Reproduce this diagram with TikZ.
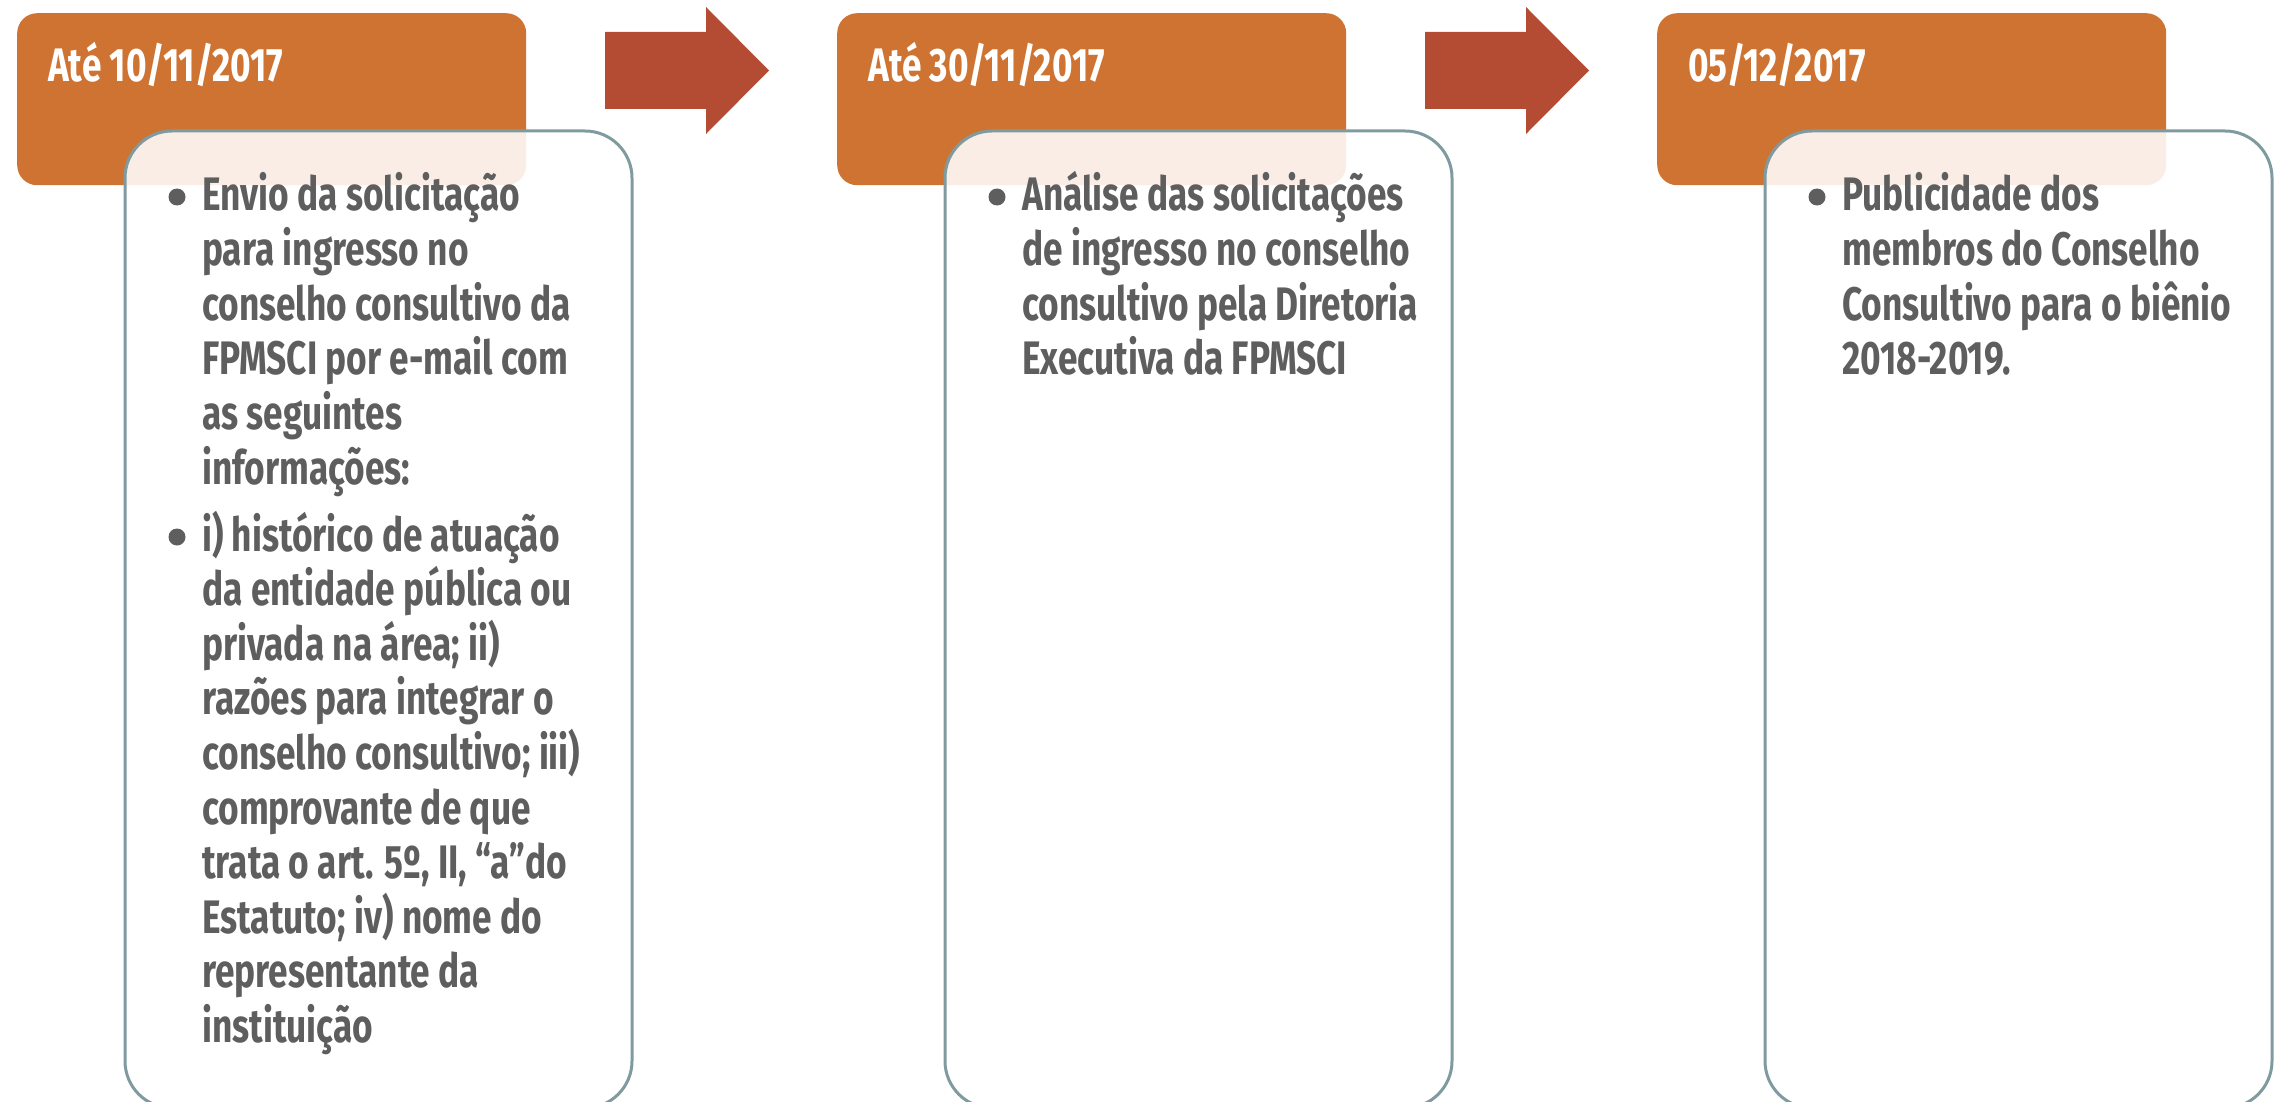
\documentclass[tikz,border=0pt]{standalone}
\usepackage{fontspec}
\newfontfamily\dinfont{Fira Sans}[FakeStretch=0.75]
\definecolor{hdr}{HTML}{CF7332}
\definecolor{arr}{HTML}{B44C34}
\definecolor{brd}{HTML}{7F9BA0}
\definecolor{txt}{HTML}{5E5E5E}
\begin{document}
\begin{tikzpicture}[x=1pt,y=-1pt,
  hdrbox/.style={rectangle, rounded corners=20pt, fill=hdr, anchor=north west, minimum width=509pt, minimum height=172pt, inner sep=0pt},
  cntbox/.style={rectangle, rounded corners=47pt, draw=brd, line width=3pt, fill=white, fill opacity=0.88, anchor=north west, minimum width=507pt, minimum height=977pt, inner sep=0pt},
  hdrtext/.style={anchor=base west, inner sep=0pt, text=white, font=\dinfont\bfseries\fontsize{47}{54.6}\selectfont},
  bodytext/.style={anchor=base west, inner sep=0pt, text=txt, font=\dinfont\bfseries\fontsize{47}{54.6}\selectfont},
  bul/.style={circle, fill=txt, inner sep=0pt, minimum size=17pt},
  arrowfill/.style={fill=arr}
]
\useasboundingbox (0,0) rectangle (2274,1102);
% headers
\node[hdrbox] (h1) at (17,13) {};
\node[hdrbox] (h2) at (837,13) {};
\node[hdrbox] (h3) at (1657,13) {};
% arrows
\coordinate (a1) at (605,70.5);
\coordinate (a2) at (1425,70.5);
\fill[arrowfill] (a1) ++(0,-38.5) -- ++(101,0) -- ++(0,-25) -- ++(63,63.5) -- ++(-63,63.5) -- ++(0,-25) -- ++(-101,0) -- cycle;
\fill[arrowfill] (a2) ++(0,-38.5) -- ++(101,0) -- ++(0,-25) -- ++(63,63.5) -- ++(-63,63.5) -- ++(0,-25) -- ++(-101,0) -- cycle;
% content boxes
\node[cntbox] (c1) at (123.5,129.5) {};
\node[cntbox] (c2) at (943.5,129.5) {};
\node[cntbox] (c3) at (1763.5,129.5) {};
% header texts
\node[hdrtext] (ht1) at (48,82) {Até 10/11/2017};
\node[hdrtext] (ht2) at (868,82) {Até 30/11/2017};
\node[hdrtext] (ht3) at (1688,82) {05/12/2017};
% column 1
\node[bul] (b11) at (177,197) {};
\node[bodytext] (t11) at (202,211) {\parbox[t]{420pt}{\raggedright Envio da solicitação\\para ingresso no\\conselho consultivo da\\FPMSCI por e-mail com\\as seguintes\\informações:}};
\node[bul] (b12) at (177,537) {};
\node[bodytext] (t12) at (202,551) {\parbox[t]{420pt}{\raggedright i) histórico de atuação\\da entidade pública ou\\privada na área; ii)\\razões para integrar o\\conselho consultivo; iii)\\comprovante de que\\trata o art. 5º, II, “a”do\\Estatuto; iv) nome do\\representante da\\instituição}};
% column 2
\node[bul] (b21) at (997,197) {};
\node[bodytext] (t21) at (1022,211) {\parbox[t]{420pt}{\raggedright Análise das solicitações\\de ingresso no conselho\\consultivo pela Diretoria\\Executiva da FPMSCI}};
% column 3
\node[bul] (b31) at (1817,197) {};
\node[bodytext] (t31) at (1842,211) {\parbox[t]{420pt}{\raggedright Publicidade dos\\membros do Conselho\\Consultivo para o biênio\\2018-2019.}};
\end{tikzpicture}
\end{document}
